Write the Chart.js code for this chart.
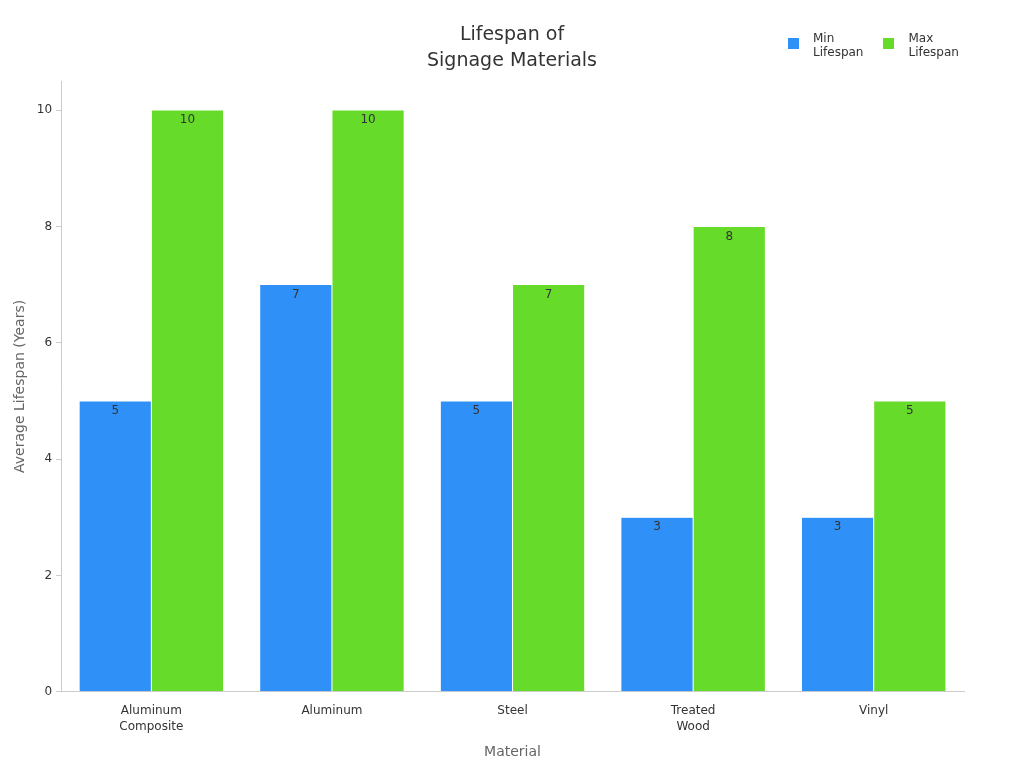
<!DOCTYPE html>
<html><head><meta charset="utf-8">
<script src="https://cdn.jsdelivr.net/npm/chart.js@4/dist/chart.umd.min.js"></script>
<style>
body{margin:0;background:#fff;font-family:"DejaVu Sans",sans-serif;}
#wrap{position:relative;width:1024px;height:768px;}
#title{position:absolute;top:20px;left:0;width:1024px;text-align:center;font-size:19px;line-height:26px;color:#333;}
#legend{position:absolute;top:31px;left:788px;font-size:12px;color:#333;display:flex;gap:20px;}
.item{display:flex;align-items:flex-start;line-height:14px;}
.sw{width:11px;height:11px;margin:7px 14px 0 0;}
</style></head><body>
<div id="wrap"><canvas id="c" width="1024" height="768"></canvas>
<div id="title">Lifespan of<br>Signage Materials</div>
<div id="legend">
<div class="item"><div class="sw" style="background:#2f91f7"></div><div>Min<br>Lifespan</div></div>
<div class="item"><div class="sw" style="background:#67db29"></div><div>Max<br>Lifespan</div></div>
</div></div>
<script>
const categories=[["Aluminum","Composite"],"Aluminum","Steel",["Treated","Wood"],"Vinyl"];
const minLifespan=[5,7,5,3,3];
const maxLifespan=[10,10,7,8,5];
const labelPlugin={id:'vals',afterDatasetsDraw(chart){
 const ctx=chart.ctx;ctx.save();ctx.font='12px "DejaVu Sans"';ctx.fillStyle='#333';ctx.textAlign='center';ctx.textBaseline='top';
 chart.data.datasets.forEach((ds,i)=>{chart.getDatasetMeta(i).data.forEach((b,j)=>{ctx.fillText(ds.data[j],b.x,b.y+4);});});
 ctx.restore();}};
new Chart(document.getElementById('c'),{type:'bar',
data:{labels:categories,datasets:[
 {label:'Min Lifespan',data:minLifespan,backgroundColor:'#2f91f7',borderColor:'#ffffff',borderWidth:0.5},
 {label:'Max Lifespan',data:maxLifespan,backgroundColor:'#67db29',borderColor:'#ffffff',borderWidth:0.5}]},
options:{responsive:false,animation:false,
 layout:{padding:{left:8,right:60,top:81,bottom:3}},
 datasets:{bar:{categoryPercentage:0.8,barPercentage:1}},
 plugins:{legend:{display:false},tooltip:{enabled:false},title:{display:false}},
 scales:{
  x:{grid:{display:false},border:{color:'#ccc'},ticks:{color:'#333',font:{family:'DejaVu Sans',size:12,lineHeight:1.35}},
   title:{display:true,text:'Material',color:'#666',font:{family:'DejaVu Sans',size:14},padding:{top:6}}},
  y:{min:0,max:10.5,grid:{drawOnChartArea:false,tickLength:5,color:'#ccc'},border:{color:'#ccc'},
   ticks:{stepSize:0.5,color:'#333',font:{family:'DejaVu Sans',size:12},padding:4,callback:v=>(v%2===0?v:null)},
   title:{display:true,text:'Average Lifespan (Years)',color:'#666',font:{family:'DejaVu Sans',size:14}}}}},
plugins:[labelPlugin]});
</script></body></html>
